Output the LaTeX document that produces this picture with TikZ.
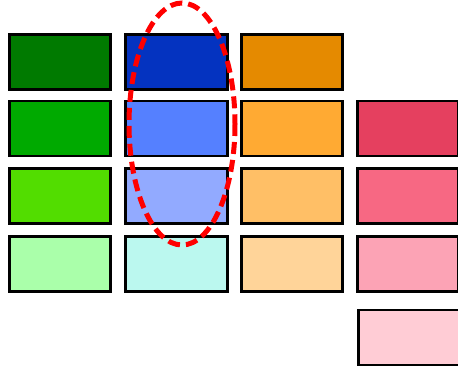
\documentclass[tikz,border=0pt]{standalone}
\usepackage{tikz}
\definecolor{greenA}{HTML}{007A00}
\definecolor{greenB}{HTML}{00AA00}
\definecolor{greenC}{HTML}{52DD00}
\definecolor{greenD}{HTML}{AAFFAA}
\definecolor{blueA}{HTML}{0433C0}
\definecolor{blueB}{HTML}{5580FF}
\definecolor{blueC}{HTML}{92AAFF}
\definecolor{blueD}{HTML}{BBF8EF}
\definecolor{orangeA}{HTML}{E58A00}
\definecolor{orangeB}{HTML}{FFAA33}
\definecolor{orangeC}{HTML}{FFBF66}
\definecolor{orangeD}{HTML}{FFD499}
\definecolor{pinkA}{HTML}{E5405F}
\definecolor{pinkB}{HTML}{F76883}
\definecolor{pinkC}{HTML}{FCA3B5}
\definecolor{pinkD}{HTML}{FFCCD5}
\tikzset{
	swatch/.style={draw=black,line width=2.6pt,minimum width=101.5pt,minimum height=55pt,inner sep=0pt}
}
\begin{document}
\begin{tikzpicture}[x=1pt,y=-1pt]
	\useasboundingbox (0,0) rectangle (458,371);
	\clip (0,0) rectangle (458,371);
	% greens
	\node[swatch,fill=greenA](g1) at (60,62){};
	\node[swatch,fill=greenB](g2) at (60,128.5){};
	\node[swatch,fill=greenC](g3) at (60,196){};
	\node[swatch,fill=greenD](g4) at (60,264){};
	% blues
	\node[swatch,fill=blueA](b1) at (176.5,62){};
	\node[swatch,fill=blueB](b2) at (176.5,128.5){};
	\node[swatch,fill=blueC](b3) at (176.5,196){};
	\node[swatch,fill=blueD](b4) at (176.5,264){};
	% oranges
	\node[swatch,fill=orangeA](o1) at (292,62){};
	\node[swatch,fill=orangeB](o2) at (292,128.5){};
	\node[swatch,fill=orangeC](o3) at (292,196){};
	\node[swatch,fill=orangeD](o4) at (292,264){};
	% pinks
	\node[swatch,fill=pinkA](p1) at (408,128.5){};
	\node[swatch,fill=pinkB](p2) at (408,196){};
	\node[swatch,fill=pinkC](p3) at (408,264){};
	\node[swatch,fill=pinkD](p4) at (409,337.5){};
	% highlight
	\draw[red,line width=5pt,dash pattern=on 12pt off 6pt](182,124) ellipse (53 and 121);
\end{tikzpicture}
\end{document}
